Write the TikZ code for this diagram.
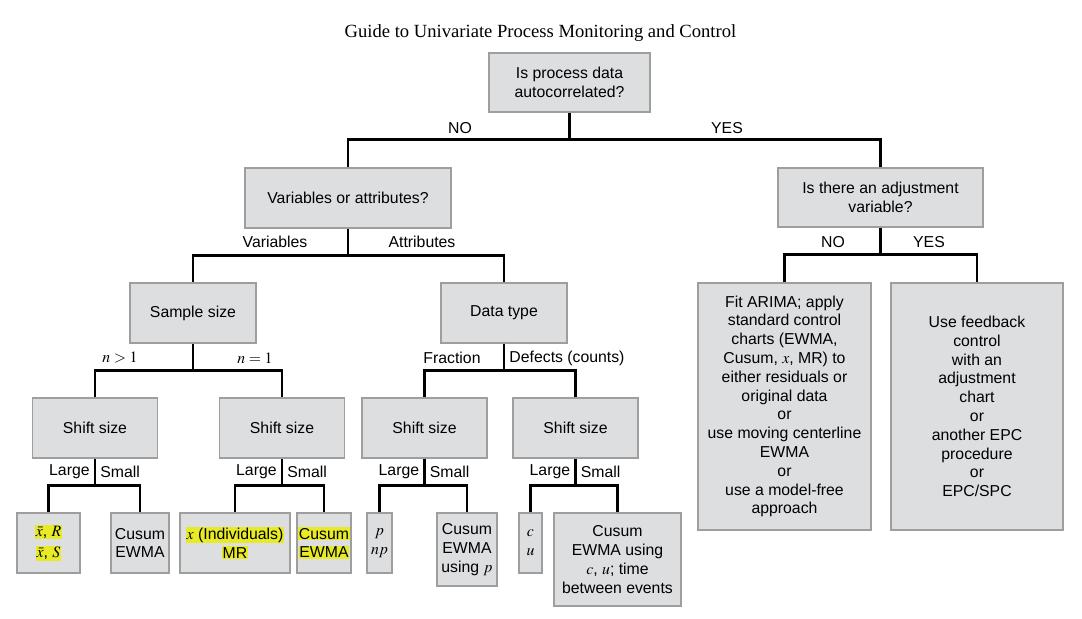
\documentclass[tikz,border=0pt]{standalone}
\usepackage{mathptmx}
\usepackage{fontspec}
\setmainfont{Liberation Sans}
\newfontfamily\titlefont{Liberation Serif}
\usepackage{tikz}
\usetikzlibrary{positioning}
\definecolor{boxfill}{RGB}{221,222,224}
\definecolor{boxline}{RGB}{158,158,158}
\definecolor{hlyellow}{RGB}{232,234,40}
\tikzstyle{box}=[rectangle,draw=boxline,fill=boxfill,line width=0.7pt,inner sep=0pt,align=center,font=\fontsize{7.9}{9.4}\selectfont]
\tikzstyle{branch}=[draw,line width=1.25pt]
\tikzstyle{answer}=[font=\fontsize{7.9}{9}\selectfont,inner sep=2.5pt]
\newcommand{\hilite}[1]{{\setlength{\fboxsep}{0.4pt}\colorbox{hlyellow}{#1}}}

\begin{document}
\begin{tikzpicture}[x=0.5pt,y=-0.5pt]
    \useasboundingbox (0,0) rectangle (1082,619);
    \node[font=\titlefont\fontsize{9.3}{11}\selectfont] (title) at (540.5,33) {Guide to Univariate Process Monitoring and Control};

    % questions
    \node[box,minimum width=80.5pt,minimum height=29.5pt] (auto) at (569.5,82.5) {Is process data\\autocorrelated?};
    \node[box,minimum width=103pt,minimum height=30pt] (varatt) at (348,198) {Variables or attributes?};
    \node[box,minimum width=102.5pt,minimum height=29.5pt] (adjvar) at (880.5,197.5) {Is there an adjustment\\variable?};
    \node[box,minimum width=63pt,minimum height=30pt] (sample) at (193,313) {Sample size};
    \node[box,minimum width=63pt,minimum height=30pt] (dtype) at (504,313) {Data type};
    \foreach \pos/\name in {{(95,428)/shiftA}, {(282,428)/shiftB}, {(424.5,428)/shiftC}, {(575.5,428)/shiftD}}
        \node[box,minimum width=62.5pt,minimum height=30pt] (\name) at \pos {Shift size};

    % autocorrelated side
    \node[box,minimum width=86.5pt,minimum height=123.5pt] (arima) at (784.5,406.5)
        {Fit ARIMA; apply\\standard control\\charts (EWMA,\\Cusum, $x$, MR) to\\either residuals or\\original data\\or\\use moving centerline\\EWMA\\or\\use a model-free\\approach};
    \node[box,minimum width=86pt,minimum height=123.5pt] (feedback) at (977,406.5)
        {Use feedback\\control\\with an\\adjustment\\chart\\or\\another EPC\\procedure\\or\\EPC/SPC};

    % charts
    \node[box,minimum width=31.5pt,minimum height=30pt] (xbar) at (48.5,543) {\hilite{$\bar{x}$, $R$}\\[1.2pt]\hilite{$\bar{x}$, $S$}};
    \node[box,minimum width=29pt,minimum height=30pt] (cusumA) at (140,543) {Cusum\\EWMA};
    \node[box,minimum width=55pt,minimum height=30pt] (indiv) at (235,543) {\hilite{$x$ (Individuals)}\\\hilite{MR}};
    \node[box,minimum width=27pt,minimum height=30pt] (cusumB) at (324,543) {\hilite{Cusum}\\\hilite{EWMA}};
    \node[box,minimum width=12.5pt,minimum height=30pt] (pchart) at (379.5,543) {$p$\\$np$};
    \node[box,minimum width=30pt,minimum height=36.5pt] (cusumC) at (467,549.5) {Cusum\\EWMA\\using $p$};
    \node[box,minimum width=11.5pt,minimum height=30pt] (cchart) at (530.5,543) {$c$\\$u$};
    \node[box,minimum width=63.5pt,minimum height=46.5pt] (cusumD) at (617.5,559.5) {Cusum\\EWMA using\\$c$, $u$; time\\between events};

    % Connect boxes with branches
    \foreach \parent/\kidA/\kidB in {auto/varatt/adjvar, varatt/sample/dtype, adjvar/arima/feedback, sample/shiftA/shiftB, dtype/shiftC/shiftD, shiftA/xbar/cusumA, shiftB/indiv/cusumB, shiftC/pchart/cusumC, shiftD/cchart/cusumD}
        \path[branch] (\parent.south) -- ++(0,27) coordinate (\parent-bar) -| (\kidA.north) (\parent-bar) -| (\kidB.north);

    % branch labels
    \node[answer] (noA) at (460,128) {NO};
    \node[answer] (yesA) at (727,128) {YES};
    \node[answer] (vars) at (275,242) {Variables};
    \node[answer] (atts) at (422,242) {Attributes};
    \node[answer] (noB) at (833,242) {NO};
    \node[answer] (yesB) at (929,242) {YES};
    \node[answer] (nbig) at (120,358) {$n > 1$};
    \node[answer] (none) at (255,358) {$n = 1$};
    \node[answer] (frac) at (452,358) {Fraction};
    \node[answer] (defects) at (567,358) {Defects (counts)};
    \foreach \s in {shiftA,shiftB,shiftC,shiftD}
        \path (\s.south) -- node[answer,left] {Large} node[answer,right] {Small} (\s-bar);
\end{tikzpicture}
\end{document}
